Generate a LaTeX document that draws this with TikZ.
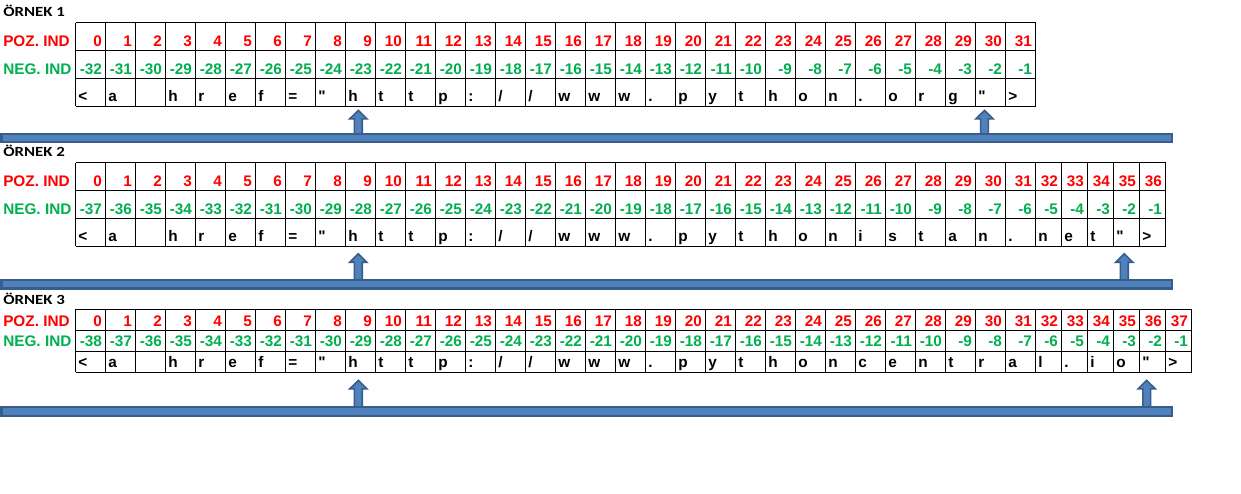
\documentclass[tikz,border=0pt]{standalone}
\usepackage{fontspec}
\newfontfamily\tabfont{Liberation Sans}
\newfontfamily\titlefont{Carlito}
\definecolor{pozred}{HTML}{FF0000}
\definecolor{neggreen}{HTML}{00B050}
\definecolor{barfill}{HTML}{4F81BD}
\definecolor{barline}{HTML}{385D8A}
\newcommand\drawstrtable[7]{%
  \pgfmathtruncatemacro\lastcol{#6-1}%
  \pgfmathsetmacro\xend{#6<=32 ? 75.7+30*#6 : 1035.7+26*(#6-32)}%
  \foreach \yy in {#2,#3,#4,#5} \draw[gridline] (75.7,\yy) -- (\xend,\yy);
  \foreach \i in {0,...,#6} {
    \pgfmathsetmacro\xl{\i<=32 ? 75.7+30*\i : 1035.7+26*(\i-32)}
    \draw[gridline] (\xl,#2) -- (\xl,#5);
  }
  \foreach \i in {0,...,\lastcol} {
    \pgfmathsetmacro\xr{\i<32 ? 75.7+30*(\i+1) : 1035.7+26*(\i+1-32)}
    \pgfmathtruncatemacro\ni{\i-#6}
    \node[poz] (#1p\i) at (\xr-3.5,#3-4.7) {\i};
    \node[neg] (#1n\i) at (\xr-3.5,#4-4.7) {\ni};
  }
  \foreach \c [count=\k from 0] in {#7} {
    \pgfmathsetmacro\xl{\k<=32 ? 75.7+30*\k : 1035.7+26*(\k-32)}
    \node[chr] (#1c\k) at (\xl+2.3,#5-4.5) {\c};
  }
  \node[rowlabel,text=pozred] (#1pl) at (3,#3-4.7) {POZ. IND};
  \node[rowlabel,text=neggreen] (#1nl) at (3,#4-4.7) {NEG. IND};
}
\newcommand\uparrowblock[3]{%
  \draw[blockarrow] (#1,#2+1.1) -- (#1+8.5,#2+9.5) -- (#1+3.9,#2+9.5) -- (#1+3.9,#3+4)
    -- (#1-3.9,#3+4) -- (#1-3.9,#2+9.5) -- (#1-8.5,#2+9.5) -- cycle;
}
\begin{document}
\begin{tikzpicture}[x=0.75pt,y=-0.75pt,
  gridline/.style={line width=0.75pt,black},
  cellfont/.style={font=\tabfont\bfseries\fontsize{11.5}{13}\selectfont},
  poz/.style={cellfont,anchor=base east,inner sep=0pt,text=pozred},
  neg/.style={cellfont,anchor=base east,inner sep=0pt,text=neggreen},
  chr/.style={cellfont,anchor=base west,inner sep=0pt,text=black},
  rowlabel/.style={cellfont,anchor=base west,inner sep=0pt},
  titletext/.style={anchor=base west,inner sep=0pt,font=\titlefont\bfseries\fontsize{10.5}{12}\selectfont},
  bar/.style={fill=barfill,draw=barline,line width=1.7pt},
  blockarrow/.style={fill=barfill,draw=barline,line width=1.2pt,line join=miter}]
\useasboundingbox[fill=white] (0,0) rectangle (1241,493);

% titles
\node[titletext] (t1) at (3,16.7) {\scalebox{1.2}[1]{ÖRNEK 1}};
\node[titletext] (t2) at (3,156.7) {\scalebox{1.2}[1]{ÖRNEK 2}};
\node[titletext] (t3) at (3,304) {\scalebox{1.2}[1]{ÖRNEK 3}};

% tables
\drawstrtable{a}{22.7}{50.7}{78.7}{106.3}{32}{<,a,{},h,r,e,f,=,",h,t,t,p,:,{/},{/},w,w,w,.,p,y,t,h,o,n,.,o,r,g,",>}
\drawstrtable{b}{162.7}{190.7}{218.7}{246.3}{37}{<,a,{},h,r,e,f,=,",h,t,t,p,:,{/},{/},w,w,w,.,p,y,t,h,o,n,i,s,t,a,n,.,n,e,t,",>}
\drawstrtable{c}{309.3}{330.7}{351.3}{372.3}{38}{<,a,{},h,r,e,f,=,",h,t,t,p,:,{/},{/},w,w,w,.,p,y,t,h,o,n,c,e,n,t,r,a,l,.,i,o,",>}

% arrows
\uparrowblock{358.3}{109.3}{133.3}
\uparrowblock{984.5}{109.3}{133.3}
\uparrowblock{358.3}{252.7}{279.5}
\uparrowblock{1124.3}{252.7}{279.5}
\uparrowblock{358.3}{379.3}{406.6}
\uparrowblock{1146.7}{379.3}{406.6}

% bars
\draw[bar] (1.6,133.8) rectangle (1171.8,142.2);
\draw[bar] (1.6,280) rectangle (1171.8,288.6);
\draw[bar] (1.6,407.1) rectangle (1171.8,416.2);
\end{tikzpicture}
\end{document}
